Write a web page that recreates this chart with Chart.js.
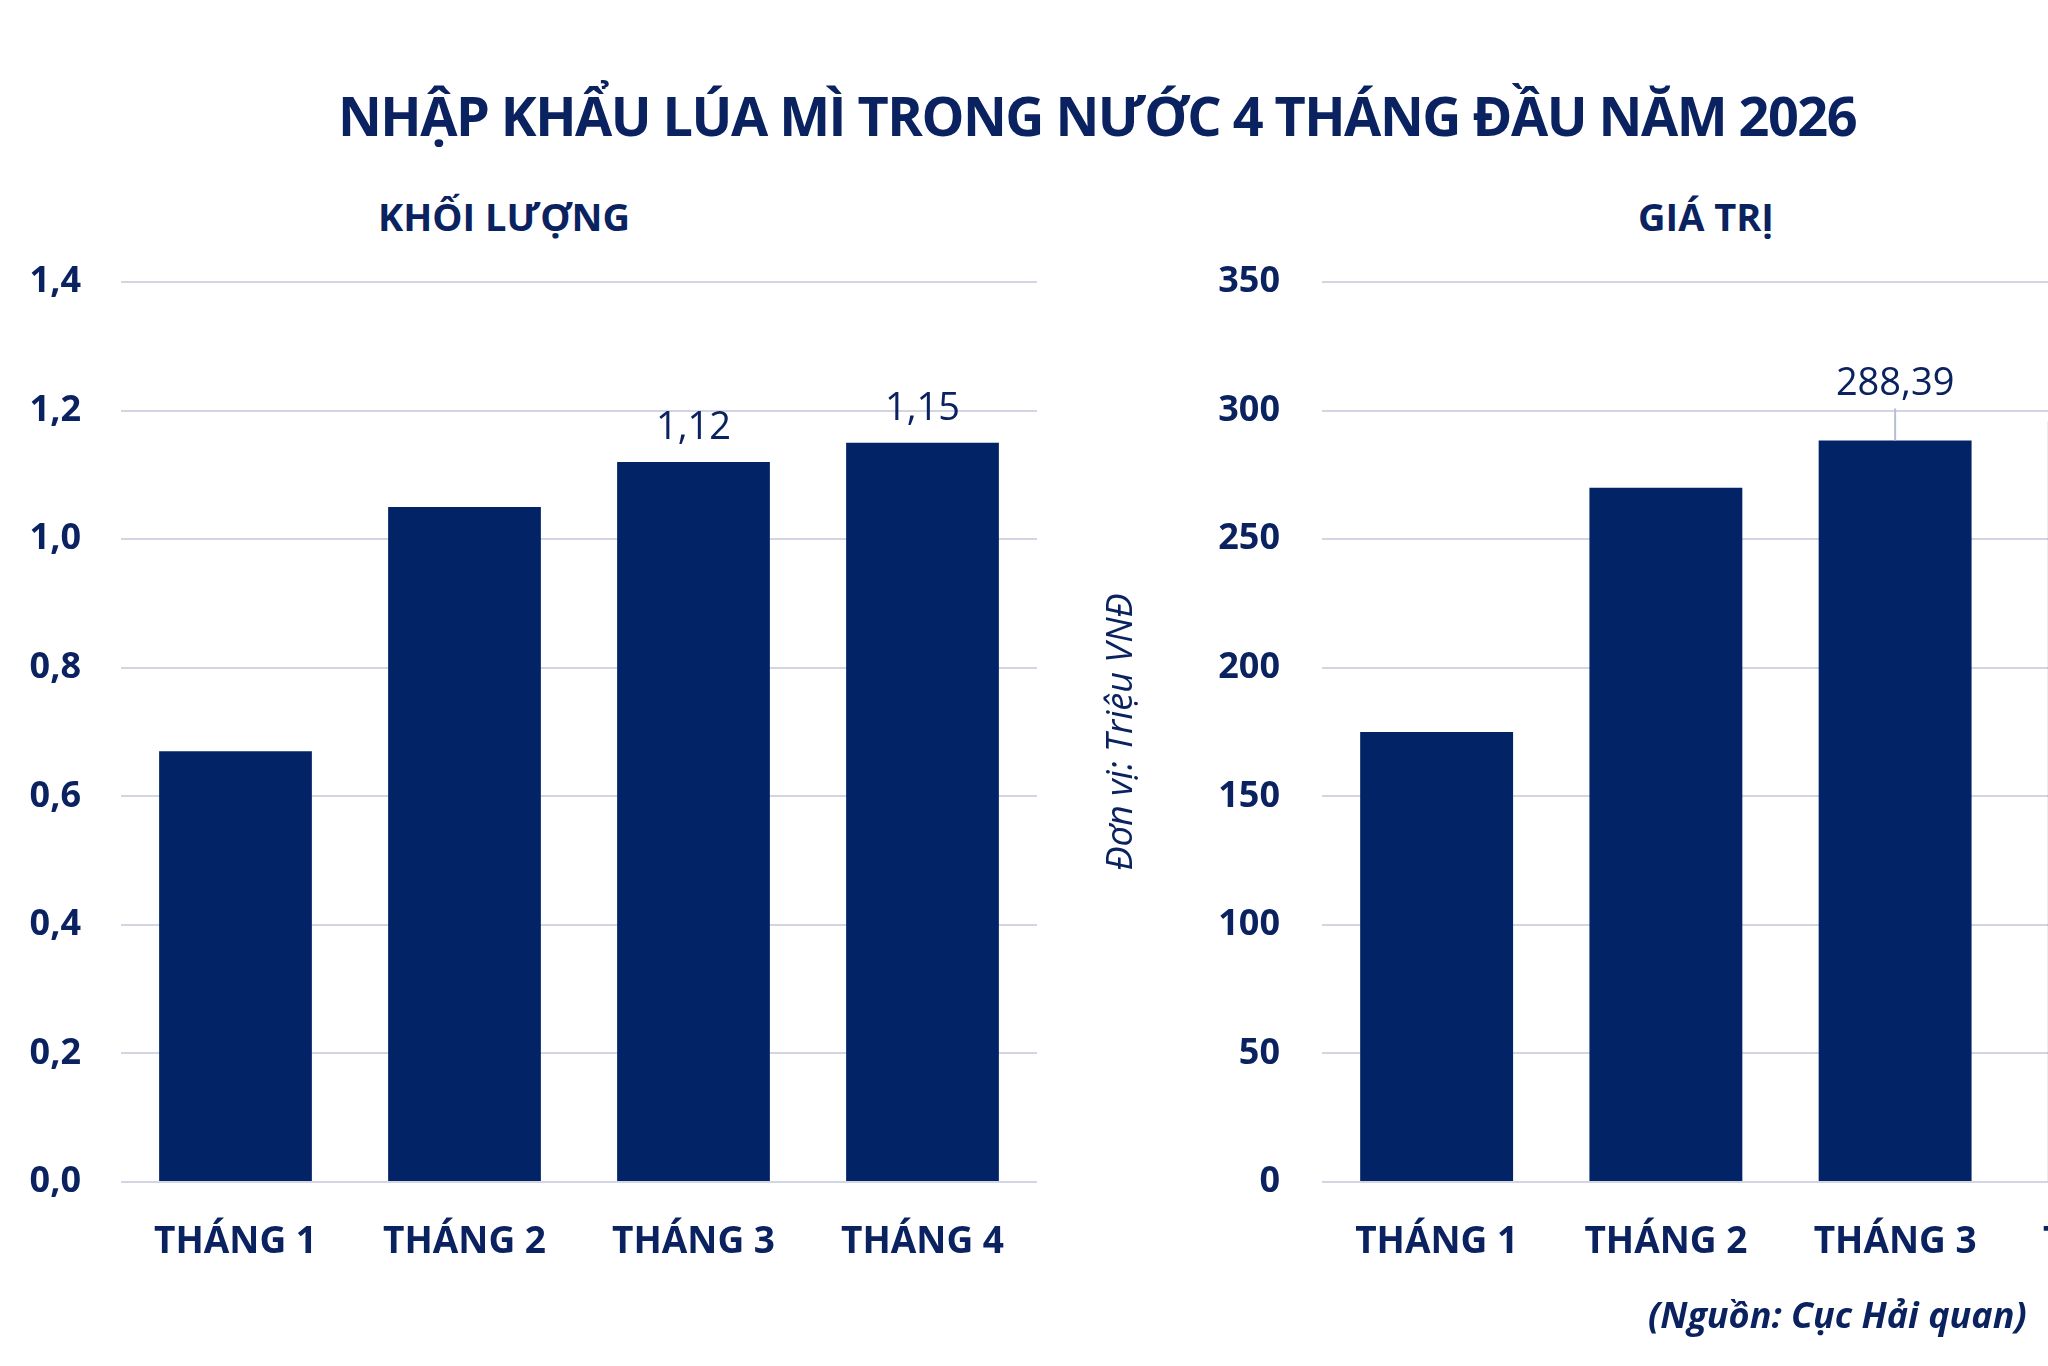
<!DOCTYPE html>
<html><head><meta charset="utf-8">
<script src="https://cdn.jsdelivr.net/npm/chart.js@4/dist/chart.umd.min.js"></script>
<style>
html,body{margin:0;padding:0;width:2048px;height:1366px;overflow:hidden;background:#fff;font-family:"Open Sans",sans-serif;color:#0b2260}
.t{position:absolute;white-space:nowrap;font-weight:700;color:#0b2260}
canvas{position:absolute;top:0}
</style></head><body>
<div class="t" id="title" style="left:0;width:2194px;top:78px;text-align:center;font-size:54px;letter-spacing:-1.5px">NHẬP KHẨU LÚA MÌ TRONG NƯỚC 4 THÁNG ĐẦU NĂM 2026</div>
<div class="t" style="left:304px;width:400px;top:190px;text-align:center;font-size:38px">KHỐI LƯỢNG</div>
<div class="t" style="left:1506px;width:400px;top:190px;text-align:center;font-size:38px">GIÁ TRỊ</div>
<div style="position:absolute;left:1100px;top:0;width:1200px;height:1366px"><canvas id="c2" width="1200" height="1366" style="left:0"></canvas></div>
<canvas id="c1" width="1060" height="1366" style="left:0"></canvas>
<div class="t" style="left:1648px;top:1290px;font-size:36px;font-style:italic">(Nguồn: Cục Hải quan)</div>
<script>
const categories = ["THÁNG 1","THÁNG 2","THÁNG 3","THÁNG 4"];
const volumeValues = [0.67, 1.05, 1.12, 1.15];
const valueValues = [175, 270, 288.39, 296];
const volumeLabelIdx = [2, 3];
const valueLabelIdx = [2, 3];
const fmt = (v, d) => v.toFixed(d).replace('.', ',');
const navy = '#022366', ink = '#0b2260';

function labelPlugin(idx, dec, gap, leader) {
  return { id: 'lbl', afterDatasetsDraw(ch) {
    const c = ch.ctx, meta = ch.getDatasetMeta(0), data = ch.data.datasets[0].data;
    c.save(); c.fillStyle = ink; c.font = '38px "Open Sans"'; c.textAlign = 'center'; c.textBaseline = 'middle';
    idx.forEach(i => { const el = meta.data[i];
      c.fillText(fmt(data[i], dec), el.x, el.y - gap);
      if (leader) { c.strokeStyle = '#b8bfd2'; c.lineWidth = 2; c.beginPath(); c.moveTo(el.x, el.y - gap + 24); c.lineTo(el.x, el.y); c.stroke(); }
    }); c.restore(); } };
}

function make(id, vals, max, step, dec, yW, tickPad, padR, yTitle, plug) {
  new Chart(document.getElementById(id), {
    type: 'bar',
    data: { labels: categories, datasets: [{ data: vals, backgroundColor: navy, categoryPercentage: 1, barPercentage: 0.667 }] },
    options: {
      responsive: false, animation: false,
      layout: { padding: { top: 282, right: padR, left: 0, bottom: 0 } },
      plugins: { legend: { display: false }, tooltip: { enabled: false } },
      scales: {
        x: { grid: { display: false }, border: { display: false },
             ticks: { color: ink, font: { family: 'Open Sans', size: 37, weight: 'bold' }, padding: 30 },
             afterFit: s => { s.height = 184; } },
        y: { min: 0, max: max, ticks: { stepSize: step, color: ink, padding: tickPad,
               font: { family: 'Open Sans', size: 36, weight: 'bold' }, callback: v => fmt(v, dec) },
             grid: { color: '#d3d6e2', lineWidth: 2, drawTicks: false }, border: { display: false },
             title: yTitle ? { display: true, text: yTitle, color: ink, font: { family: 'Open Sans', size: 36, style: 'italic' }, padding: 0 } : { display: false },
             afterFit: s => { s.width = yW; } }
      }
    },
    plugins: [plug]
  });
}
make('c1', volumeValues, 1.4, 0.2, 1, 121, 40, 23, null, labelPlugin(volumeLabelIdx, 2, 34, false));
make('c2', valueValues, 350, 50, 0, 222, 42, 61, 'Đơn vị: Triệu VNĐ', labelPlugin(valueLabelIdx, 2, 56, true));
</script>
</body></html>
